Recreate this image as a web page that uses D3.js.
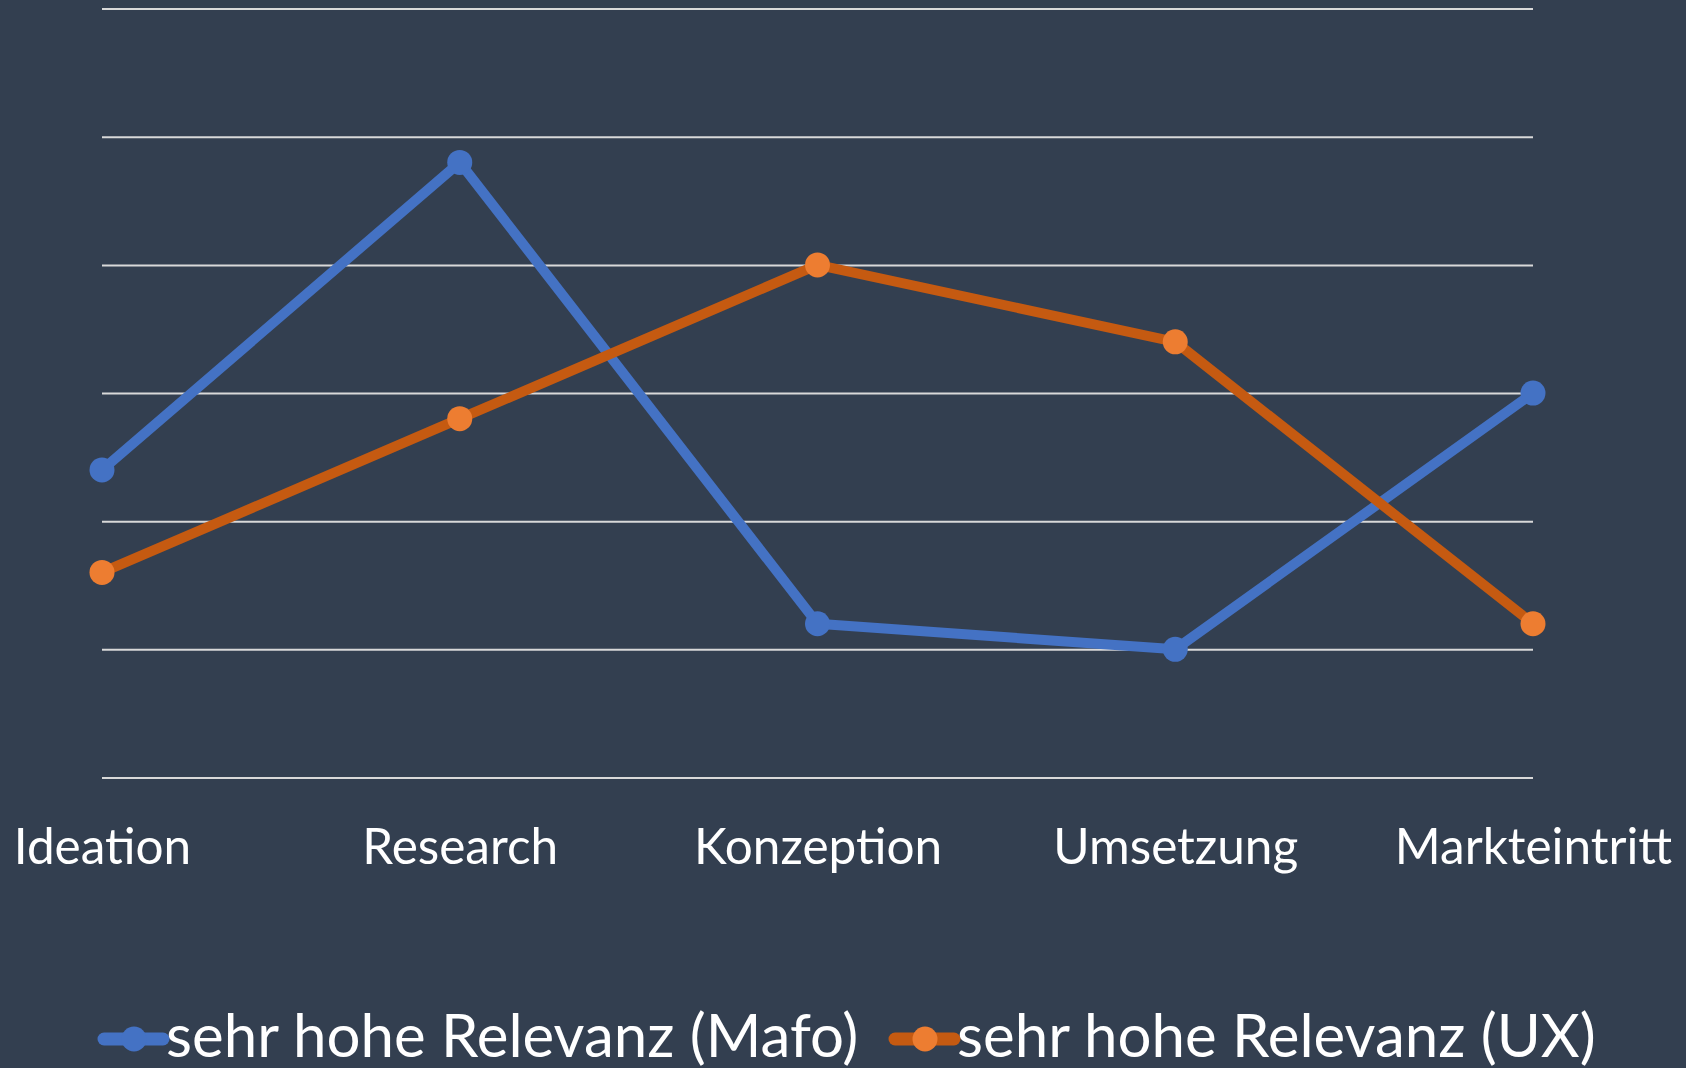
<html>
    <head>
        <script src="https://d3js.org/d3.v7.min.js"></script>
        <style>
            body { margin: 0; background: #333F50; }
        </style>
    </head>
    <body>
        <div id="chart"></div>

        <script type="text/javascript">
            // data
            const phases = ["Ideation", "Research", "Konzeption", "Umsetzung", "Markteintritt"];
            const mafo = [12, 24, 6, 5, 15];
            const ux = [8, 14, 20, 17, 6];
            const seriesNames = ["sehr hohe Relevanz (Mafo)", "sehr hohe Relevanz (UX)"];
            const gridTicks = [0, 5, 10, 15, 20, 25, 30];

            const width = 1686;
            const height = 1068;
            const fontFamily = "Lato, 'Open Sans', sans-serif";

            const svg = d3.select('#chart')
                .append('svg')
                .attr('width', width)
                .attr('height', height);

            svg.append('rect')
                .attr('width', width)
                .attr('height', height)
                .attr('fill', '#333F50');

            const x = d3.scalePoint()
                .domain(phases)
                .range([102, 1533])
                .padding(0);

            const y = d3.scaleLinear()
                .domain([0, 30])
                .range([777.5, 8.6]);

            // gridlines
            const grid = svg.append('g')
                .attr('transform', 'translate(102,0)')
                .call(d3.axisLeft(y).tickValues(gridTicks).tickSize(-(1533 - 102)).tickFormat(''));
            grid.select('.domain').remove();
            grid.selectAll('.tick line')
                .attr('stroke', '#D9D9D9')
                .attr('stroke-width', 2);

            // category labels
            const xAxis = svg.append('g')
                .attr('transform', 'translate(0,777.5)')
                .call(d3.axisBottom(x).tickSize(0).tickPadding(0));
            xAxis.select('.domain').remove();
            xAxis.selectAll('.tick text')
                .attr('y', 86)
                .attr('dy', 0)
                .attr('fill', '#FFFFFF')
                .style('font-family', fontFamily)
                .style('font-size', '49.5px');

            const series = [
                {name: seriesNames[0], values: mafo, line: '#4472C4', marker: '#4472C4'},
                {name: seriesNames[1], values: ux, line: '#C55A11', marker: '#ED7D31'}
            ];

            const line = d3.line()
                .x((d, i) => x(phases[i]))
                .y(d => y(d));

            series.forEach(s => {
                svg.append('path')
                    .datum(s.values)
                    .attr('d', line)
                    .attr('fill', 'none')
                    .attr('stroke', s.line)
                    .attr('stroke-width', 10)
                    .attr('stroke-linejoin', 'round');
            });

            series.forEach(s => {
                svg.selectAll(null)
                    .data(s.values)
                    .enter()
                    .append('circle')
                    .attr('cx', (d, i) => x(phases[i]))
                    .attr('cy', d => y(d))
                    .attr('r', 12.5)
                    .attr('fill', s.marker);
            });

            // legend
            const legendX = [104, 895];
            const legend = svg.selectAll('.legend')
                .data(series)
                .enter()
                .append('g')
                .attr('class', 'legend')
                .attr('transform', (d, i) => 'translate(' + legendX[i] + ',1039)');

            legend.append('line')
                .attr('x1', 0)
                .attr('x2', 59)
                .attr('stroke', d => d.line)
                .attr('stroke-width', 13)
                .attr('stroke-linecap', 'round');

            legend.append('circle')
                .attr('cx', 30)
                .attr('r', 12.5)
                .attr('fill', d => d.marker);

            legend.append('text')
                .attr('x', 62)
                .attr('y', 18)
                .attr('fill', '#FFFFFF')
                .style('font-family', fontFamily)
                .style('font-size', '60px')
                .text(d => d.name);
        </script>
    </body>
</html>
